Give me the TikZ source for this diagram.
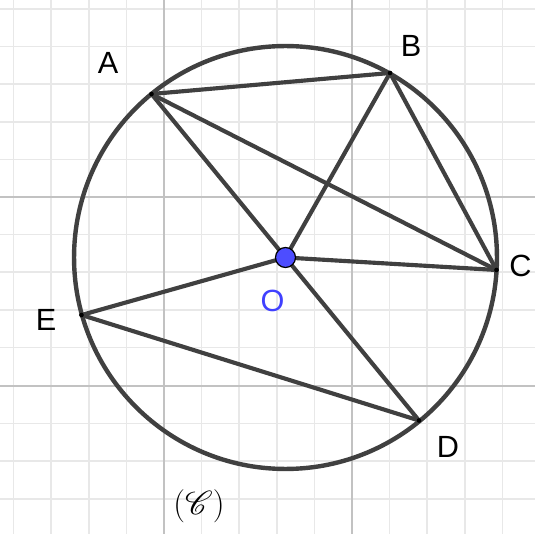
\documentclass[tikz,border=0pt]{standalone}
\usepackage{fontspec}
\usepackage{mathrsfs}
\setmainfont{Liberation Sans}
\begin{document}
\begin{tikzpicture}[x=0.75pt,y=-0.75pt,
  minorgrid/.style={draw=black!9,line width=1.2pt},
  majorgrid/.style={draw=black!24,line width=1.4pt},
  seg/.style={draw=black!75,line width=3.1pt,line cap=round},
  vtx/.style={circle,fill=black,inner sep=0pt,minimum size=3.5pt},
  lbl/.style={inner sep=0pt,font=\fontsize{23}{25}\selectfont},
  ctr/.style={circle,fill={rgb,255:red,77;green,77;blue,255},draw=black,line width=0.9pt,inner sep=0pt,minimum size=15pt}]
\useasboundingbox (0,0) rectangle (535,534);
\fill[white] (0,0) rectangle (535,534);
% grid
\foreach \gx in {13.6,51.2,88.8,126.4,201.6,239.2,276.8,314.4,389.6,427.2,464.8,502.4}
  \draw[minorgrid] (\gx,0) -- (\gx,534);
\foreach \gy in {9,46.6,84.2,121.8,159.4,234.6,272.2,309.8,347.4,423.6,461.2,498.8}
  \draw[minorgrid] (0,\gy) -- (535,\gy);
\foreach \gx in {164,352}
  \draw[majorgrid] (\gx,0) -- (\gx,534);
\foreach \gy in {197,386}
  \draw[majorgrid] (0,\gy) -- (535,\gy);
% points
\coordinate (O) at (285.5,257.5);
\coordinate (A) at (151.5,94);
\coordinate (B) at (390,73);
\coordinate (C) at (496.5,270);
\coordinate (D) at (419,420.5);
\coordinate (E) at (81.5,315);
% circle
\draw[draw=black!75,line width=3.3pt] (O) circle [radius=158.6pt];
% segments
\draw[seg] (A) -- (B);
\draw[seg] (A) -- (C);
\draw[seg] (A) -- (D);
\draw[seg] (B) -- (C);
\draw[seg] (B) -- (O);
\draw[seg] (O) -- (C);
\draw[seg] (E) -- (O);
\draw[seg] (E) -- (D);
% vertices
\foreach \p in {A,B,C,D,E} \node[vtx] (v\p) at (\p) {};
\node[ctr] (vO) at (O) {};
% labels
\node[lbl] (lA) at (108,63) {A};
\node[lbl] (lB) at (411,46) {B};
\node[lbl] (lC) at (520.5,266) {C};
\node[lbl] (lD) at (448,446.5) {D};
\node[lbl] (lE) at (46,319.5) {E};
\node[lbl,text={rgb,255:red,64;green,64;blue,255}] (lO) at (272.5,300.5) {O};
\node[inner sep=0pt,font=\fontsize{30}{33}\selectfont] (lCircle) at (199,506) {$(\mathscr{C})$};
\end{tikzpicture}
\end{document}
